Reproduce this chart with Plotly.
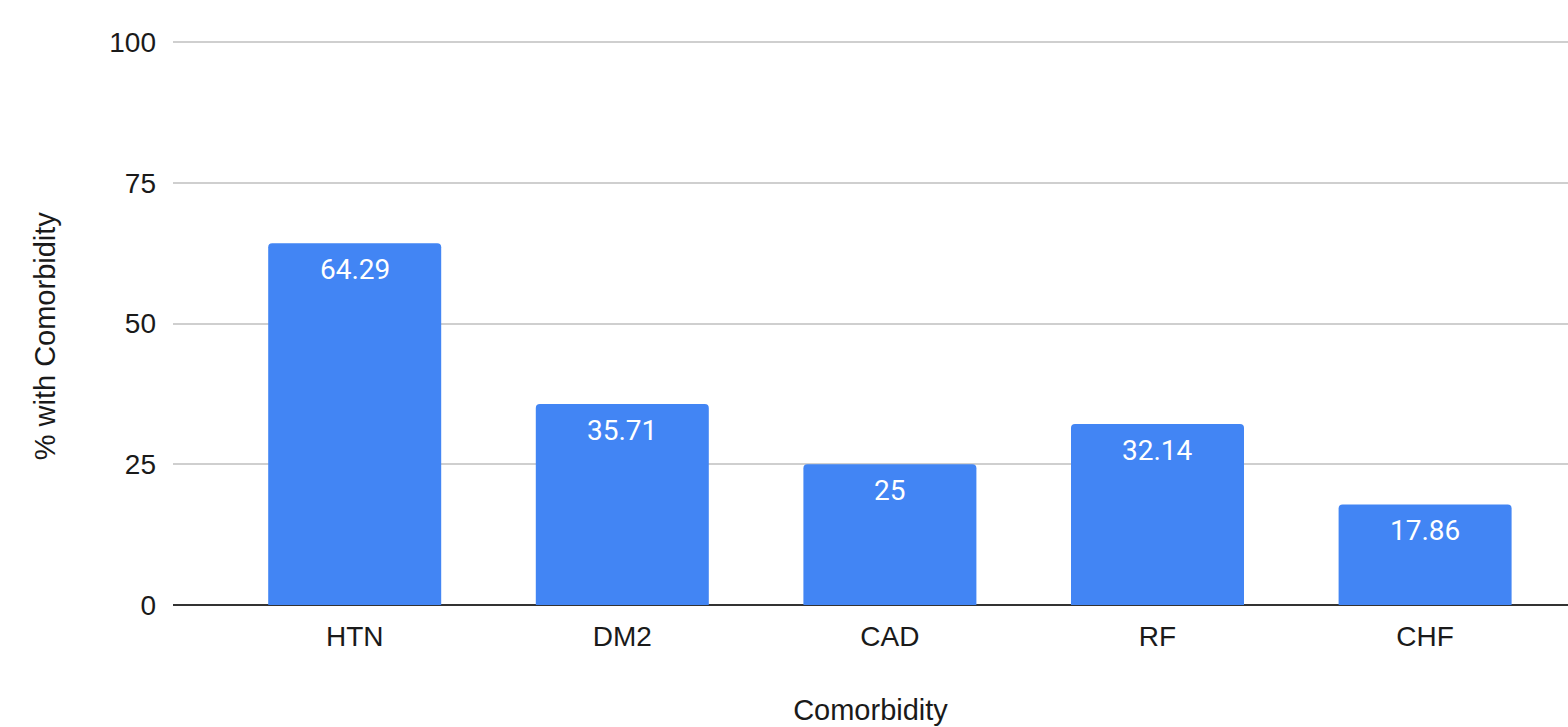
import plotly.graph_objects as go

# Share of patients with each comorbidity (%)
comorbidities = ["HTN", "DM2", "CAD", "RF", "CHF"]
percent_with = [64.29, 35.71, 25, 32.14, 17.86]
value_labels = ["64.29", "35.71", "25", "32.14", "17.86"]
y_ticks = [0, 25, 50, 75, 100]

BAR_BLUE = "#4285F4"
AXIS_FONT = "Liberation Sans, Arial, sans-serif"
TEXT_COLOR = "#1a1a1a"

fig = go.Figure(
    go.Bar(
        x=comorbidities,
        y=percent_with,
        marker=dict(color=BAR_BLUE, line=dict(width=0)),
        hoverinfo="x+y",
    )
)

# Value labels sit just inside the top of each bar
for cat, val, lab in zip(comorbidities, percent_with, value_labels):
    fig.add_annotation(
        x=cat,
        y=val,
        text=lab,
        showarrow=False,
        yanchor="top",
        yshift=-8,
        font=dict(family="Roboto, sans-serif", size=28, color="white"),
    )

# Vertical axis title, placed slightly below the plot's middle
fig.add_annotation(
    xref="paper",
    yref="paper",
    x=-0.0915,
    y=0.477,
    text="% with Comorbidity",
    textangle=-90,
    showarrow=False,
    xanchor="center",
    yanchor="middle",
    font=dict(family=AXIS_FONT, size=29, color=TEXT_COLOR),
)

fig.update_layout(
    width=1568,
    height=727,
    margin=dict(l=173, r=0, t=41, b=122),
    paper_bgcolor="white",
    plot_bgcolor="white",
    bargap=0.3535,
    barcornerradius=4,
    showlegend=False,
    font=dict(family=AXIS_FONT, size=28, color=TEXT_COLOR),
)

fig.update_xaxes(
    type="category",
    range=[-0.679, 4.534],
    showgrid=False,
    showline=False,
    zeroline=False,
    ticks="",
    ticklabelstandoff=12,
    tickfont=dict(family=AXIS_FONT, size=28, color=TEXT_COLOR),
    title=dict(text="Comorbidity", font=dict(family=AXIS_FONT, size=29, color=TEXT_COLOR), standoff=48),
)

fig.update_yaxes(
    range=[0, 100.2],
    tickvals=y_ticks,
    ticktext=[str(v) for v in y_ticks],
    showgrid=True,
    gridcolor="#cfcfcf",
    gridwidth=2,
    zeroline=True,
    zerolinecolor="#333333",
    zerolinewidth=2,
    showline=False,
    ticks="",
    ticklabelstandoff=16,
    tickfont=dict(family=AXIS_FONT, size=28, color=TEXT_COLOR),
)

fig.write_html("out.html")
